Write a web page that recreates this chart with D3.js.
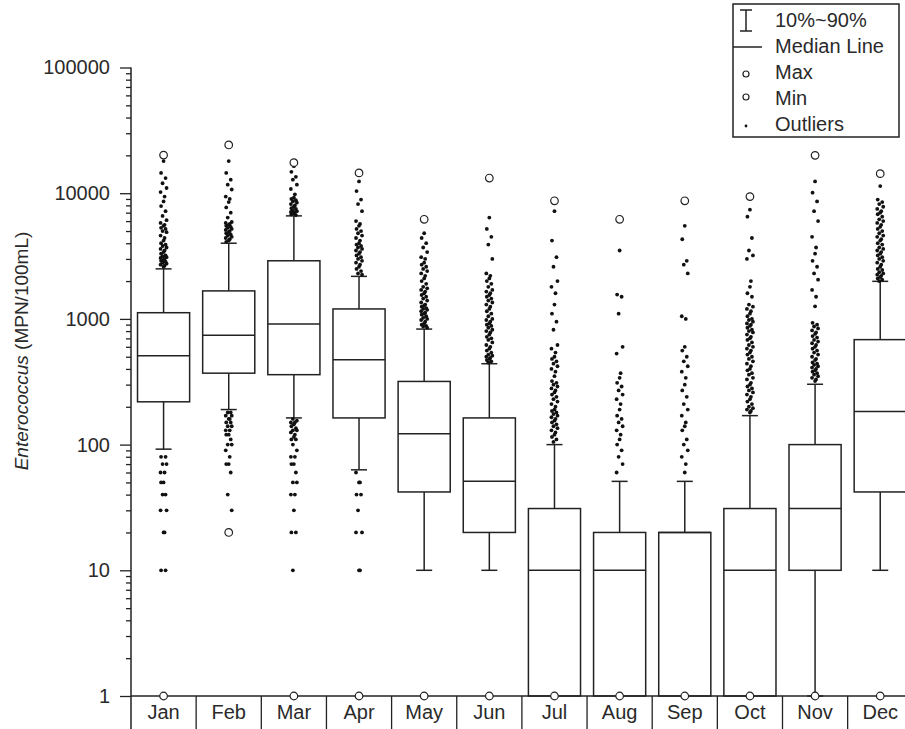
<!DOCTYPE html>
<html>
<head>
<meta charset="utf-8">
<script src="https://cdn.jsdelivr.net/npm/d3@7"></script>
<style>
  body { margin: 0; background: #fff; }
  text { font-family: Arial, "Liberation Sans", sans-serif; fill: #2a2a2a; }
</style>
</head>
<body>
<div id="chart"></div>
<script>
// monthly Enterococcus box plot values (MPN/100mL)
var months = ["Jan", "Feb", "Mar", "Apr", "May", "Jun", "Jul", "Aug", "Sep", "Oct", "Nov", "Dec"]
var p10    = [92, 190, 163, 63, 10, 10, 1, 1, 1, 1, 1, 10]
var q1     = [219, 370, 360, 163, 42, 20, 1, 1, 1, 1, 10, 42]
var median = [510, 740, 910, 473, 122, 51, 10, 10, 20, 10, 31, 183]
var q3     = [1120, 1670, 2900, 1200, 318, 163, 31, 20, 20, 31, 100, 684]
var p90    = [2500, 4000, 6600, 2180, 830, 440, 100, 51, 51, 170, 302, 1990]
var maxVal = [20100, 24200, 17500, 14500, 6200, 13200, 8700, 6200, 8700, 9400, 20000, 14300]
var minVal = [1, 20, 1, 1, 1, 1, 1, 1, 1, 1, 1, 1]

var outliers = [
  [18000, 14500, 13200, 12000, 11000, 10200, 9400, 8600, 7900, 7200, 6600, 6100, 5800, 5600, 5500, 5300, 5200, 5000, 4900,
   4600, 4400, 4200, 4000, 3900, 3800, 3700, 3600, 3500, 3400, 3300, 3200, 3150, 3100, 3050, 3000, 2950, 2900, 2850,
   2800, 2750, 2700, 2650, 2600,
   80, 80, 70, 70, 60, 60, 50, 50, 40, 40, 30, 30, 20, 20, 10, 10],
  [18000, 14500, 12800, 11700, 10700, 9400, 9000, 8500, 7700, 7000, 6400, 5900, 5800, 5700, 5600, 5500, 5400, 5300,
   5200, 5100, 5000, 4900, 4800, 4700, 4600, 4500, 4400, 4300, 4200, 4100,
   180, 180, 170, 170, 160, 160, 150, 150, 140, 140, 130, 130, 120, 120, 110, 100, 100, 90, 80, 70, 70, 60, 40, 30],
  [16400, 14800, 13500, 12800, 11700, 10800, 9800, 9200, 9000, 8800, 8600, 8400, 8200, 8000, 7800, 7600, 7500, 7300,
   7200, 7100, 7000, 6900, 6800, 6700,
   160, 155, 150, 150, 145, 140, 135, 130, 130, 125, 120, 115, 110, 110, 100, 90, 80, 80, 70, 70, 60, 50, 50,
   40, 40, 30, 20, 20, 10],
  [12400, 10400, 8900, 8200, 7200, 6000, 5700, 5500, 5200, 5000, 4800, 4600, 4400, 4200, 4000, 3900, 3800, 3700,
   3600, 3500, 3400, 3300, 3200, 3100, 3000, 2900, 2800, 2700, 2600, 2500, 2400, 2300, 2250,
   60, 50, 50, 40, 40, 30, 20, 20, 10, 10],
  [4800, 4400, 4000, 3700, 3400, 3100, 3000, 2800, 2700, 2600, 2500, 2400, 2300, 2200, 2100, 2000, 1900, 1800,
   1750, 1700, 1650, 1600, 1550, 1500, 1450, 1400, 1350, 1300, 1280, 1250, 1220, 1200, 1180, 1150, 1120, 1100,
   1080, 1050, 1020, 1000, 980, 950, 920, 900, 880, 870, 850],
  [6400, 5200, 4500, 3900, 3000, 2300, 2200, 2100, 2000, 1900, 1800, 1700, 1650, 1600, 1550, 1500, 1450, 1400,
   1350, 1300, 1250, 1200, 1150, 1100, 1050, 1000, 980, 950, 920, 900, 880, 850, 820, 800, 780, 750, 720, 700,
   680, 650, 620, 600, 580, 560, 540, 520, 510, 500, 490, 480, 470, 460, 450],
  [7200, 4200, 3100, 2600, 2000, 1800, 1600, 1300, 1100, 950, 820, 620, 580, 540, 500, 480, 460, 440, 420, 400,
   380, 350, 320, 310, 300, 290, 280, 270, 260, 250, 240, 230, 220, 210, 200, 190, 185, 180, 175, 170, 165, 160,
   155, 150, 145, 140, 135, 130, 125, 120, 115, 110, 105],
  [3500, 1560, 1500, 1100, 600, 530, 370, 340, 310, 290, 270, 250, 230, 210, 190, 170, 160, 150, 140, 130,
   120, 110, 100, 90, 80, 70, 60],
  [5500, 4300, 2900, 2700, 2300, 1050, 1000, 600, 560, 500, 460, 420, 380, 340, 300, 270, 240, 210, 190,
   170, 150, 140, 130, 110, 100, 90, 80, 70, 60],
  [7400, 6500, 4400, 3500, 3200, 3000, 2000, 1800, 1600, 1500, 1300, 1250, 1200, 1150, 1100, 1050, 1000, 980,
   950, 920, 900, 880, 850, 820, 800, 780, 750, 720, 700, 680, 650, 620, 600, 580, 560, 540, 520, 500, 480, 460,
   440, 420, 400, 390, 370, 360, 340, 330, 310, 300, 290, 280, 270, 260, 250, 240, 230, 220, 210, 200, 195, 190,
   185, 180],
  [12400, 10100, 8600, 7200, 6000, 4500, 3700, 3300, 2900, 2600, 2300, 2050, 1700, 1500, 1260, 930, 900, 870,
   840, 810, 780, 760, 730, 710, 680, 660, 640, 620, 600, 580, 560, 540, 520, 500, 480, 470, 450, 440, 430,
   420, 410, 400, 390, 380, 370, 360, 350, 340, 330, 320],
  [11400, 8900, 8500, 8200, 7800, 7500, 7200, 7000, 6800, 6500, 6200, 6000, 5800, 5600, 5400, 5200, 5000, 4800,
   4600, 4500, 4300, 4200, 4000, 3900, 3700, 3600, 3500, 3400, 3300, 3200, 3100, 3000, 2900, 2800, 2700, 2600,
   2500, 2450, 2350, 2300, 2250, 2200, 2150, 2100, 2050, 2000]
]

var yTicks = [1, 10, 100, 1000, 10000, 100000]
var legendLabels = ["10%~90%", "Median Line", "Max", "Min", "Outliers"]

var W = 905, H = 729
var ink = "#222"

var svg = d3.select("#chart").append("svg")
            .attr("width", W)
            .attr("height", H)

var y = d3.scaleLog()
          .domain([1, 100000])
          .range([696, 67.5])

var x = d3.scaleBand()
          .domain(months)
          .range([131, 131 + 12 * 65.15])
          .padding(0)

var boxW = x.bandwidth() * 0.8
var capW = 16

// minor ticks
var minor = []
yTicks.slice(0, -1).forEach(function(d) {
  for (var k = 2; k < 10; k++) minor.push(d * k)
})

svg.append("g")
   .attr("transform", "translate(131,0)")
   .call(d3.axisLeft(y).tickValues(minor).tickSize(5).tickFormat(""))
   .call(g => g.select(".domain").remove())
   .selectAll("line").attr("stroke", ink).attr("stroke-width", 1.3)

var yAxis = svg.append("g")
   .attr("transform", "translate(131,0)")
   .call(d3.axisLeft(y).tickValues(yTicks).tickSize(11).tickPadding(10).tickFormat(d3.format("d")))
yAxis.select(".domain").remove()
yAxis.selectAll("line").attr("stroke", ink).attr("stroke-width", 1.3)
yAxis.selectAll("text").attr("font-size", 20).style("fill", "#2a2a2a")

svg.append("line")
   .attr("x1", 131).attr("x2", 131)
   .attr("y1", y(100000)).attr("y2", H)
   .attr("stroke", ink).attr("stroke-width", 1.5)

// x axis + category dividers
var xAxis = svg.append("g")
   .attr("transform", "translate(0,696)")
   .call(d3.axisBottom(x).tickSize(0).tickPadding(9))
xAxis.select(".domain").remove()
xAxis.selectAll("text").attr("font-size", 20).style("fill", "#2a2a2a")

svg.append("line")
   .attr("x1", 131).attr("x2", W)
   .attr("y1", y(1)).attr("y2", y(1))
   .attr("stroke", ink).attr("stroke-width", 1.5)

svg.append("g").selectAll("line")
   .data(d3.range(1, 13))
   .join("line")
   .attr("x1", i => x.range()[0] + i * x.step())
   .attr("x2", i => x.range()[0] + i * x.step())
   .attr("y1", y(1)).attr("y2", H)
   .attr("stroke", ink).attr("stroke-width", 1.3)

// boxes
var boxes = svg.append("g").selectAll("g")
   .data(months)
   .join("g")
   .attr("transform", d => "translate(" + (x(d) + x.bandwidth() / 2) + ",0)")

boxes.each(function(m, i) {
  var g = d3.select(this)
  var line = function(x1, y1, x2, y2) {
    g.append("line")
     .attr("x1", x1).attr("y1", y1).attr("x2", x2).attr("y2", y2)
     .attr("stroke", ink).attr("stroke-width", 1.5)
  }
  // whiskers
  line(0, y(q3[i]), 0, y(p90[i]))
  line(-capW / 2, y(p90[i]), capW / 2, y(p90[i]))
  if (p10[i] < q1[i]) {
    line(0, y(q1[i]), 0, y(p10[i]))
    line(-capW / 2, y(p10[i]), capW / 2, y(p10[i]))
  }
  g.append("rect")
   .attr("x", -boxW / 2)
   .attr("y", y(q3[i]))
   .attr("width", boxW)
   .attr("height", y(q1[i]) - y(q3[i]))
   .attr("fill", "none")
   .attr("stroke", ink).attr("stroke-width", 1.5)
  line(-boxW / 2, y(median[i]), boxW / 2, y(median[i]))

  var jit = [0, -2.5, 2, -1, 3, -3, 1]
  g.selectAll("circle.out")
   .data(outliers[i])
   .join("circle")
   .attr("class", "out")
   .attr("cx", (d, k) => jit[k % 7])
   .attr("cy", d => y(d))
   .attr("r", 1.9)
   .attr("fill", "#111")

  g.selectAll("circle.ext")
   .data([maxVal[i], minVal[i]])
   .join("circle")
   .attr("class", "ext")
   .attr("cx", 0)
   .attr("cy", d => y(d))
   .attr("r", 3.8)
   .attr("fill", "#fff")
   .attr("stroke", ink).attr("stroke-width", 1.2)
})

// y label
svg.append("text")
   .attr("transform", "translate(28,351) rotate(-90)")
   .attr("text-anchor", "middle")
   .attr("font-size", 19)
   .call(t => {
     t.append("tspan").attr("font-style", "italic").text("Enterococcus")
     t.append("tspan").text(" (MPN/100mL)")
   })

// legend
var lg = svg.append("g")
lg.append("rect")
  .attr("x", 733).attr("y", 4)
  .attr("width", 166).attr("height", 133)
  .attr("fill", "#fff")
  .attr("stroke", ink).attr("stroke-width", 1.5)

var rowY = [20, 46, 72, 98, 124]
lg.selectAll("text")
  .data(legendLabels)
  .join("text")
  .attr("x", 775)
  .attr("y", (d, i) => rowY[i])
  .attr("dy", "0.35em")
  .attr("font-size", 20)
  .text(d => d)

var sym = lg.append("g").attr("stroke", ink).attr("stroke-width", 1.5)
sym.append("line").attr("x1", 746).attr("x2", 746).attr("y1", 10).attr("y2", 31)
sym.append("line").attr("x1", 740).attr("x2", 752).attr("y1", 10).attr("y2", 10)
sym.append("line").attr("x1", 740).attr("x2", 752).attr("y1", 31).attr("y2", 31)
sym.append("line").attr("x1", 733).attr("x2", 762).attr("y1", 47).attr("y2", 47)
sym.append("circle").attr("cx", 746).attr("cy", 74).attr("r", 3).attr("fill", "#fff").attr("stroke-width", 1.2)
sym.append("circle").attr("cx", 746).attr("cy", 97).attr("r", 3).attr("fill", "#fff").attr("stroke-width", 1.2)
lg.append("circle").attr("cx", 746).attr("cy", 126).attr("r", 1.4).attr("fill", "#111")
</script>
</body>
</html>
